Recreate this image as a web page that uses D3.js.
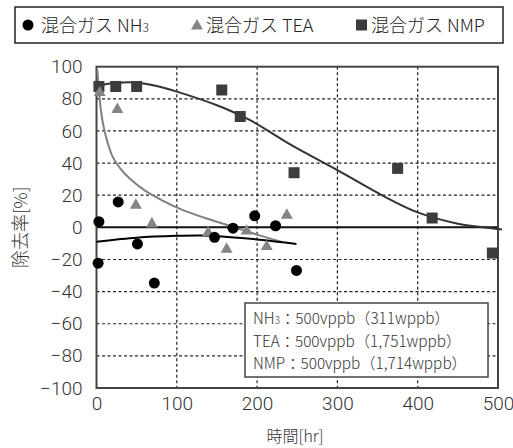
<!DOCTYPE html>
<html>
<head>
<meta charset="utf-8">
<script src="https://cdn.jsdelivr.net/npm/d3@7"></script>
<style>
  body { margin: 0; background: #fff; }
  svg { display: block; font-family: "Noto Sans CJK JP", "Noto Sans", sans-serif; font-weight: 300; }
</style>
</head>
<body>
<div id="chart"></div>
<script>
// data
var xTicks = [0, 100, 200, 300, 400, 500];
var yTicks = [-100, -80, -60, -40, -20, 0, 20, 40, 60, 80, 100];

var nh3Points = [[3, 3.5], [27, 15.8], [2, -22.3], [51, -10.3], [72, -34.7], [147, -6.2],
                 [170, -0.5], [197, 7.2], [223, 1], [249, -26.8]];
var teaPoints = [[4, 84.5], [26, 74], [49, 14.4], [69, 2.7], [139, -2.7], [162, -13],
                 [187, -1.7], [212, -11.4], [237, 8.2]];
var nmpPoints = [[3, 87.7], [24, 87.7], [50, 87.7], [156, 85.5], [179, 69], [246, 34],
                 [375, 36.7], [418, 5.8], [493, -16]];

// fitted curves (traced)
var nh3Curve = [[0, -9], [25, -7.6], [50, -6.4], [100, -5.3], [130, -5.1], [150, -5.5],
                [180, -6.6], [203, -7.7], [225, -8.9], [249, -10.3]];
var teaCurve = [[1, 98], [3, 85], [6, 71], [10, 60], [14, 52.6], [20, 44], [29, 37],
                [41, 30.5], [60, 23], [83, 16.5], [104, 11.5], [137, 5.5], [166, 1],
                [203, -5], [230, -9]];
var nmpCurve = [[0, 88], [25, 90], [50, 90.2], [75, 88], [100, 84.5], [150, 76], [190, 67],
                [245, 50.5], [300, 35.6], [357, 19.6], [400, 9.3], [450, 2.3], [500, -1],
                [505, -1.4]];

var width = 513, height = 448;
var plotL = 96.5, plotR = 498, plotT = 66.7, plotB = 388;
var numFont = "Roboto, 'Liberation Sans', sans-serif";

var svg = d3.select("#chart").append("svg")
    .attr("width", width)
    .attr("height", height);

var x = d3.scaleLinear().domain([0, 500]).range([plotL, plotR]);
var y = d3.scaleLinear().domain([-100, 100]).range([plotB, plotT]);

// grid
svg.append("g").selectAll("line")
    .data(xTicks.filter(function (d) { return d > 0 && d < 500; }))
    .enter().append("line")
    .attr("x1", function (d) { return x(d); }).attr("x2", function (d) { return x(d); })
    .attr("y1", plotT).attr("y2", plotB)
    .attr("stroke", "#222").attr("stroke-width", 1.2).attr("stroke-dasharray", "3,2.5");

svg.append("g").selectAll("line")
    .data(yTicks.filter(function (d) { return d > -100 && d < 100 && d !== 0; }))
    .enter().append("line")
    .attr("y1", function (d) { return y(d); }).attr("y2", function (d) { return y(d); })
    .attr("x1", plotL).attr("x2", plotR)
    .attr("stroke", "#222").attr("stroke-width", 1.2).attr("stroke-dasharray", "3,2.5");

// zero line
svg.append("line")
    .attr("x1", plotL).attr("x2", plotR)
    .attr("y1", y(0)).attr("y2", y(0))
    .attr("stroke", "#111").attr("stroke-width", 2);

// frame
svg.append("rect")
    .attr("x", plotL).attr("y", plotT)
    .attr("width", plotR - plotL).attr("height", plotB - plotT)
    .attr("fill", "none").attr("stroke", "#444").attr("stroke-width", 2);

// axes labels
var yAxis = svg.append("g")
    .attr("transform", "translate(" + plotL + ",0)")
    .call(d3.axisLeft(y).tickValues(yTicks).tickSize(0).tickPadding(14)
        .tickFormat(function (d) { return d < 0 ? "\u2212" + Math.abs(d) : d; }));
yAxis.select(".domain").remove();
yAxis.selectAll("text").attr("font-size", 19).attr("fill", "#333")
    .attr("font-family", numFont).attr("font-weight", 300);

var xAxis = svg.append("g")
    .attr("transform", "translate(0," + plotB + ")")
    .call(d3.axisBottom(x).tickValues(xTicks).tickSize(0).tickPadding(9));
xAxis.select(".domain").remove();
xAxis.selectAll("text").attr("font-size", 19).attr("fill", "#333")
    .attr("font-family", numFont).attr("font-weight", 300);

svg.append("text")
    .attr("x", 295).attr("y", 442)
    .attr("text-anchor", "middle")
    .attr("font-size", 16).attr("fill", "#333")
    .text("時間[hr]");

svg.append("text")
    .attr("transform", "translate(19," + ((plotT + plotB) / 2) + ") rotate(-90)")
    .attr("text-anchor", "middle").attr("dominant-baseline", "central")
    .attr("font-size", 18).attr("fill", "#333")
    .text("除去率[%]");

// curves
var line = d3.line()
    .x(function (d) { return x(d[0]); })
    .y(function (d) { return y(d[1]); })
    .curve(d3.curveCatmullRom.alpha(0.5));

svg.append("path").datum(nmpCurve).attr("d", line)
    .attr("fill", "none").attr("stroke", "#333").attr("stroke-width", 2);
svg.append("path").datum(teaCurve).attr("d", line)
    .attr("fill", "none").attr("stroke", "#808080").attr("stroke-width", 2);
svg.append("path").datum(nh3Curve).attr("d", line)
    .attr("fill", "none").attr("stroke", "#000").attr("stroke-width", 2);

// markers
var tri = d3.symbol().type(d3.symbolTriangle).size(62);

svg.append("g").selectAll("rect")
    .data(nmpPoints).enter().append("rect")
    .attr("x", function (d) { return x(d[0]) - 5.5; })
    .attr("y", function (d) { return y(d[1]) - 5.5; })
    .attr("width", 11).attr("height", 11)
    .attr("fill", "#3c3c3c");

svg.append("g").selectAll("path")
    .data(teaPoints).enter().append("path")
    .attr("d", tri)
    .attr("transform", function (d) { return "translate(" + x(d[0]) + "," + (y(d[1]) + 1) + ")"; })
    .attr("fill", "#858585");

svg.append("g").selectAll("circle")
    .data(nh3Points).enter().append("circle")
    .attr("cx", function (d) { return x(d[0]); })
    .attr("cy", function (d) { return y(d[1]); })
    .attr("r", 5.5)
    .attr("fill", "#000");

// annotation box
var note = svg.append("g");
note.append("rect")
    .attr("x", 245).attr("y", 303).attr("width", 243).attr("height", 74)
    .attr("fill", "#fff").attr("stroke", "#444").attr("stroke-width", 1.5);
var noteLines = [
    ["NH", "3", "：500vppb（311wppb）"],
    ["TEA", "", "：500vppb（1,751wppb）"],
    ["NMP", "", "：500vppb（1,714wppb）"]
];
noteLines.forEach(function (l, i) {
    var t = note.append("text")
        .attr("x", 253).attr("y", 324 + i * 22.5)
        .attr("font-size", 15.3).attr("fill", "#333");
    t.append("tspan").text(l[0]);
    if (l[1]) t.append("tspan").attr("font-size", 10).text(l[1]);
    t.append("tspan").text(l[2]);
});

// legend
var legend = svg.append("g");
legend.append("rect")
    .attr("x", 15).attr("y", 7).attr("width", 488).attr("height", 36)
    .attr("fill", "#fff").attr("stroke", "#222").attr("stroke-width", 1.5);
legend.append("circle").attr("cx", 28).attr("cy", 25).attr("r", 5.5).attr("fill", "#000");
legend.append("path").attr("d", tri).attr("transform", "translate(197,26)").attr("fill", "#858585");
legend.append("rect").attr("x", 356).attr("y", 19.5).attr("width", 11).attr("height", 11).attr("fill", "#3c3c3c");

var lt = legend.append("text").attr("x", 41).attr("y", 31.5).attr("font-size", 18).attr("fill", "#222");
lt.append("tspan").text("混合ガス NH");
lt.append("tspan").attr("font-size", 12).text("3");
legend.append("text").attr("x", 206).attr("y", 31.5).attr("font-size", 18).attr("fill", "#222").text("混合ガス TEA");
legend.append("text").attr("x", 371).attr("y", 31.5).attr("font-size", 18).attr("fill", "#222").text("混合ガス NMP");
</script>
</body>
</html>
